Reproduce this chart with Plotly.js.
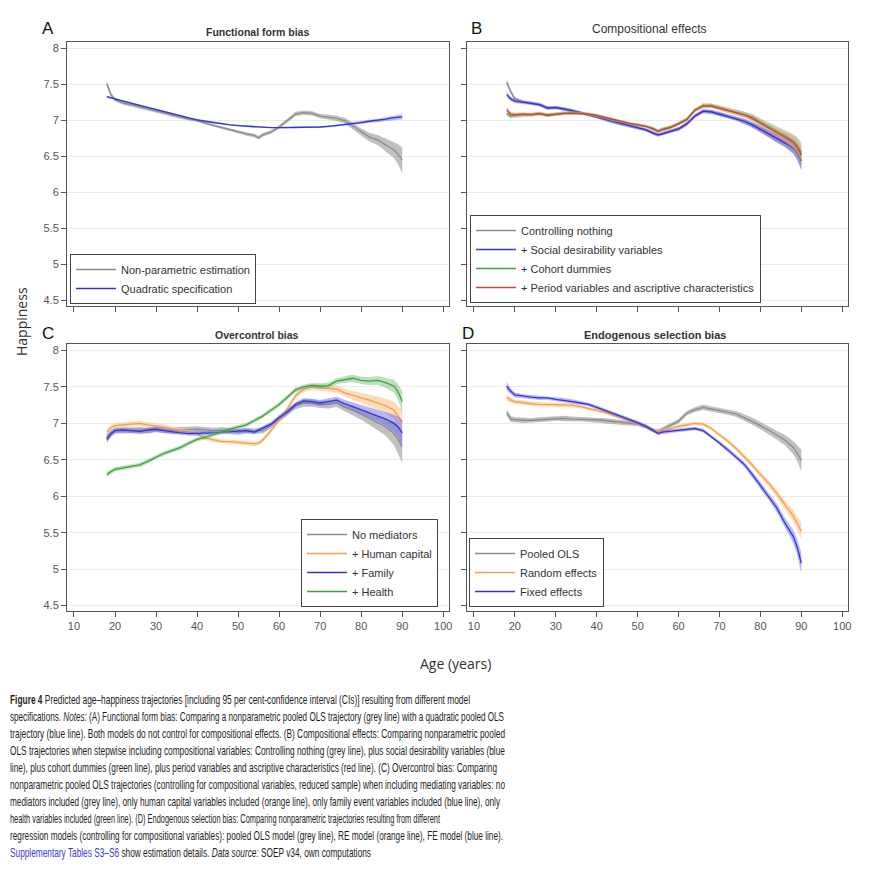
<!DOCTYPE html>
<html>
<head>
<meta charset="utf-8">
<script src="https://cdn.plot.ly/plotly-3.0.1.min.js"></script>
<style>
  html, body { margin: 0; padding: 0; background: #fff; }
  #chart { position: absolute; left: 0; top: 0; width: 880px; height: 880px; }
  .cap { position: absolute; left: 10px; white-space: nowrap; transform-origin: 0 50%;
         font-family: "Liberation Sans Narrow", "Liberation Sans", Arial, sans-serif;
         font-size: 13.5px; line-height: 16px; color: #1e1e1e; }
  .cap .lnk { color: #3b3bcf; }
</style>
</head>
<body>
<div id="chart"></div>
<div id="caption"></div>
<script>
// ---------------- DATA ----------------
const ages = [18,19,20,22,24,26,28,30,32,34, 36,38,40,42,44,46,48,50,52,54, 55,56,58,60,62,64,66,68,70,72, 74,76,78,80,82,84,86,88,89,90];
const xTicks = [10,20,30,40,50,60,70,80,90,100];
const yTicks = [4.5,5,5.5,6,6.5,7,7.5,8];

// Panel A: Functional form bias
const aNonParam   = [7.51,7.36,7.29,7.24,7.22,7.19,7.16,7.13,7.10,7.07, 7.04,7.02,7.00,6.96,6.93,6.90,6.87,6.84,6.81,6.79, 6.76,6.80,6.84,6.91,7.00,7.09,7.11,7.10,7.06,7.05, 7.03,7.00,6.92,6.84,6.77,6.73,6.66,6.59,6.53,6.45];
const aNonParamCI = [.04,.03,.025,.02,.02,.02,.02,.02,.02,.02, .02,.02,.02,.02,.02,.02,.02,.02,.022,.025, .025,.025,.025,.025,.028,.03,.03,.03,.03,.035, .035,.04,.045,.05,.06,.07,.09,.11,.14,.18];
const aQuad       = [7.33,7.32,7.30,7.27,7.24,7.21,7.18,7.15,7.12,7.09, 7.06,7.03,7.01,6.99,6.97,6.95,6.94,6.93,6.92,6.91, 6.91,6.91,6.90,6.90,6.90,6.90,6.90,6.91,6.91,6.92, 6.93,6.94,6.96,6.97,6.99,7.00,7.02,7.04,7.045,7.05];
const aQuadCI     = [.015,.014,.013,.012,.011,.01,.01,.01,.01,.01, .01,.01,.01,.01,.01,.01,.01,.01,.01,.01, .01,.01,.01,.01,.01,.01,.01,.01,.012,.013, .014,.016,.018,.02,.022,.025,.028,.032,.034,.036];

// Panel B: Compositional effects
const bNothing    = [7.53,7.40,7.30,7.26,7.24,7.22,7.18,7.18,7.16,7.14, 7.11,7.08,7.05,7.02,6.98,6.95,6.92,6.90,6.87,6.82, 6.80,6.82,6.86,6.89,6.96,7.07,7.13,7.12,7.09,7.06, 7.03,6.99,6.94,6.88,6.82,6.75,6.69,6.62,6.55,6.44];
const bNothingCI  = [.04,.03,.025,.02,.02,.02,.02,.02,.02,.02, .02,.02,.02,.02,.02,.02,.02,.02,.02,.02, .02,.02,.02,.02,.02,.02,.025,.025,.025,.025, .03,.03,.035,.04,.045,.05,.055,.07,.09,.12];
const bSocial     = [7.36,7.30,7.27,7.25,7.24,7.22,7.17,7.18,7.16,7.14, 7.11,7.08,7.05,7.02,6.98,6.95,6.92,6.90,6.87,6.82, 6.80,6.81,6.85,6.88,6.95,7.06,7.13,7.12,7.09,7.06, 7.03,6.99,6.94,6.88,6.82,6.75,6.69,6.62,6.55,6.44];
const bSocialCI   = [.04,.03,.03,.025,.025,.025,.025,.025,.025,.025, .02,.02,.02,.02,.02,.02,.02,.02,.022,.025, .025,.025,.025,.025,.025,.025,.028,.028,.03,.03, .03,.035,.04,.045,.05,.055,.06,.08,.10,.13];
const bCohort     = [7.10,7.06,7.07,7.08,7.08,7.09,7.08,7.09,7.10,7.11, 7.10,7.09,7.07,7.04,7.01,6.99,6.96,6.94,6.92,6.88, 6.85,6.88,6.91,6.96,7.02,7.15,7.21,7.21,7.18,7.15, 7.12,7.09,7.05,6.98,6.92,6.86,6.79,6.72,6.66,6.56];
const bCohortCI   = [.04,.03,.03,.025,.025,.025,.025,.025,.025,.025, .02,.02,.02,.02,.02,.02,.02,.02,.022,.025, .025,.025,.025,.025,.025,.025,.028,.028,.03,.03, .035,.04,.045,.05,.055,.06,.07,.09,.11,.13];
const bPeriod     = [7.15,7.09,7.08,7.09,7.08,7.10,7.07,7.09,7.10,7.10, 7.10,7.09,7.07,7.04,7.01,6.98,6.96,6.94,6.92,6.88, 6.85,6.87,6.90,6.95,7.01,7.14,7.20,7.20,7.17,7.14, 7.11,7.08,7.03,6.96,6.90,6.83,6.77,6.70,6.63,6.52];
const bPeriodCI   = [.04,.03,.03,.025,.025,.025,.025,.025,.025,.025, .02,.02,.02,.02,.02,.02,.02,.02,.022,.025, .025,.025,.025,.025,.025,.025,.028,.028,.03,.03, .035,.04,.045,.05,.055,.06,.07,.09,.11,.13];

// Panel C: Overcontrol bias
const cNone       = [6.80,6.86,6.90,6.90,6.91,6.91,6.90,6.92,6.91,6.90, 6.91,6.92,6.92,6.91,6.90,6.91,6.89,6.88,6.90,6.89, 6.90,6.90,6.97,7.06,7.15,7.24,7.28,7.28,7.26,7.26, 7.28,7.22,7.18,7.13,7.07,7.01,6.95,6.86,6.78,6.68];
const cNoneCI     = [.06,.045,.04,.04,.04,.04,.04,.04,.04,.04, .04,.04,.04,.04,.04,.04,.04,.04,.04,.04, .04,.04,.04,.04,.045,.045,.05,.05,.05,.055, .055,.06,.07,.08,.09,.10,.12,.16,.19,.22];
const cHuman      = [6.88,6.94,6.97,6.98,6.99,7.00,6.98,6.97,6.95,6.92, 6.90,6.88,6.86,6.80,6.77,6.75,6.75,6.74,6.73,6.72, 6.73,6.77,6.90,7.05,7.20,7.38,7.47,7.50,7.49,7.48, 7.47,7.42,7.38,7.35,7.32,7.28,7.24,7.18,7.10,7.02];
const cHumanCI    = [.05,.04,.035,.035,.035,.035,.035,.035,.035,.035, .03,.03,.03,.03,.03,.03,.03,.03,.03,.03, .03,.03,.03,.035,.035,.035,.04,.04,.04,.045, .05,.055,.06,.07,.08,.09,.10,.12,.14,.17];
const cFamily     = [6.78,6.86,6.90,6.91,6.90,6.89,6.91,6.92,6.90,6.88, 6.87,6.86,6.86,6.86,6.87,6.88,6.89,6.90,6.90,6.88, 6.91,6.93,6.99,7.08,7.16,7.26,7.31,7.30,7.28,7.30, 7.32,7.27,7.23,7.19,7.15,7.11,7.06,7.00,6.95,6.87];
const cFamilyCI   = [.05,.04,.035,.035,.035,.035,.035,.035,.035,.035, .03,.03,.03,.03,.03,.03,.03,.03,.03,.03, .03,.03,.03,.035,.035,.035,.04,.04,.04,.045, .045,.05,.055,.06,.07,.08,.09,.12,.14,.17];
const cHealth     = [6.30,6.34,6.37,6.39,6.41,6.43,6.48,6.54,6.59,6.63, 6.67,6.73,6.78,6.81,6.85,6.89,6.92,6.95,6.98,7.04, 7.07,7.10,7.18,7.26,7.36,7.46,7.50,7.52,7.51,7.52, 7.58,7.60,7.62,7.59,7.58,7.59,7.56,7.51,7.43,7.30];
const cHealthCI   = [.04,.035,.03,.03,.03,.03,.03,.03,.03,.03, .03,.03,.03,.03,.03,.03,.03,.03,.03,.03, .03,.03,.03,.03,.03,.035,.035,.035,.04,.04, .04,.045,.05,.05,.055,.06,.07,.09,.11,.14];

// Panel D: Endogenous selection bias
const dPooled     = [7.15,7.06,7.05,7.04,7.04,7.05,7.06,7.07,7.07,7.06, 7.06,7.05,7.05,7.04,7.03,7.02,7.00,6.99,6.96,6.90, 6.89,6.92,6.97,7.03,7.14,7.19,7.22,7.20,7.18,7.16, 7.13,7.08,7.03,6.97,6.91,6.84,6.77,6.67,6.59,6.49];
const dPooledCI   = [.05,.04,.035,.035,.035,.035,.035,.035,.035,.035, .03,.03,.03,.03,.03,.03,.03,.03,.03,.03, .03,.03,.03,.03,.03,.035,.035,.035,.035,.04, .04,.045,.05,.05,.055,.06,.07,.09,.11,.15];
const dRandom     = [7.36,7.32,7.30,7.28,7.27,7.26,7.26,7.26,7.25,7.25, 7.23,7.21,7.18,7.15,7.11,7.08,7.04,7.00,6.96,6.91, 6.88,6.90,6.93,6.96,6.98,7.00,6.99,6.93,6.84,6.76, 6.66,6.55,6.43,6.30,6.18,6.04,5.88,5.73,5.63,5.52];
const dRandomCI   = [.05,.035,.03,.03,.03,.03,.03,.03,.03,.03, .025,.025,.025,.025,.025,.025,.025,.025,.025,.025, .025,.025,.025,.025,.025,.025,.025,.025,.025,.03, .03,.035,.035,.04,.045,.05,.06,.08,.09,.12];
const dFixed      = [7.51,7.44,7.39,7.37,7.36,7.35,7.35,7.33,7.32,7.30, 7.28,7.26,7.22,7.18,7.14,7.10,7.05,7.01,6.96,6.90, 6.86,6.88,6.89,6.91,6.92,6.93,6.90,6.82,6.73,6.64, 6.54,6.44,6.30,6.15,6.00,5.84,5.63,5.45,5.30,5.08];
const dFixedCI    = [.06,.04,.035,.03,.03,.03,.03,.03,.03,.03, .025,.025,.025,.025,.025,.025,.025,.025,.025,.025, .025,.025,.025,.025,.025,.025,.025,.025,.03,.03, .03,.035,.04,.045,.05,.06,.07,.09,.11,.14];

const panelLetters = ['A','B','C','D'];
const panelTitles = ['Functional form bias','Compositional effects','Overcontrol bias','Endogenous selection bias'];
const legendA = ['Non-parametric estimation','Quadratic specification'];
const legendB = ['Controlling nothing','+ Social desirability variables','+ Cohort dummies','+ Period variables and ascriptive characteristics'];
const legendC = ['No mediators','+ Human capital','+ Family','+ Health'];
const legendD = ['Pooled OLS','Random effects','Fixed effects'];
const yTitle = 'Happiness';
const xTitle = 'Age (years)';

const captionLines = [
  '<b>Figure 4</b> Predicted age–happiness trajectories [including 95 per cent-confidence interval (CIs)] resulting from different model',
  'specifications. <i>Notes:</i> (A) Functional form bias: Comparing a nonparametric pooled OLS trajectory (grey line) with a quadratic pooled OLS',
  'trajectory (blue line). Both models do not control for compositional effects. (B) Compositional effects: Comparing nonparametric pooled',
  'OLS trajectories when stepwise including compositional variables: Controlling nothing (grey line), plus social desirability variables (blue',
  'line), plus cohort dummies (green line), plus period variables and ascriptive characteristics (red line). (C) Overcontrol bias: Comparing',
  'nonparametric pooled OLS trajectories (controlling for compositional variables, reduced sample) when including mediating variables: no',
  'mediators included (grey line), only human capital variables included (orange line), only family event variables included (blue line), only',
  'health variables included (green line). (D) Endogenous selection bias: Comparing nonparametric trajectories resulting from different',
  'regression models (controlling for compositional variables): pooled OLS model (grey line), RE model (orange line), FE model (blue line).',
  '<span class="lnk">Supplementary Tables S3–S6</span> show estimation details. <i>Data source:</i> SOEP v34, own computations'
];

// ---------------- STYLE ----------------
const FONT = '"Liberation Sans", Arial, sans-serif';
const COL = {
  grey:   {line: '#8c8c8c', band: 'rgba(140,140,140,0.55)'},
  blue:   {line: '#3535d0', band: 'rgba(95,95,245,0.45)'},
  green:  {line: '#3f9f3f', band: 'rgba(110,185,110,0.45)'},
  red:    {line: '#bf4a30', band: 'rgba(235,140,125,0.5)'},
  orange: {line: '#f0a050', band: 'rgba(255,190,125,0.55)'}
};

function band(m, ci, col, xa, ya) {
  const up = m.map((v, i) => v + ci[i]);
  const lo = m.map((v, i) => v - ci[i]);
  return {type: 'scatter', mode: 'lines', x: ages.concat(ages.slice().reverse()),
    y: up.concat(lo.slice().reverse()), fill: 'toself', fillcolor: col.band,
    line: {width: 0, color: col.band}, showlegend: false, hoverinfo: 'skip', xaxis: xa, yaxis: ya};
}
function line(m, name, col, xa, ya, leg) {
  return {type: 'scatter', mode: 'lines', x: ages, y: m, name: name,
    line: {color: col.line, width: 1.3}, xaxis: xa, yaxis: ya, legend: leg};
}
function series(m, ci, name, col, xa, ya, leg) {
  return [band(m, ci, col, xa, ya), line(m, name, col, xa, ya, leg)];
}

const traces = [].concat(
  series(aNonParam, aNonParamCI, legendA[0], COL.grey, 'x', 'y', 'legend'),
  series(aQuad, aQuadCI, legendA[1], COL.blue, 'x', 'y', 'legend'),
  series(bNothing, bNothingCI, legendB[0], COL.grey, 'x2', 'y2', 'legend2'),
  series(bSocial, bSocialCI, legendB[1], COL.blue, 'x2', 'y2', 'legend2'),
  series(bCohort, bCohortCI, legendB[2], COL.green, 'x2', 'y2', 'legend2'),
  series(bPeriod, bPeriodCI, legendB[3], COL.red, 'x2', 'y2', 'legend2'),
  series(cNone, cNoneCI, legendC[0], COL.grey, 'x3', 'y3', 'legend3'),
  series(cHuman, cHumanCI, legendC[1], COL.orange, 'x3', 'y3', 'legend3'),
  series(cFamily, cFamilyCI, legendC[2], COL.blue, 'x3', 'y3', 'legend3'),
  series(cHealth, cHealthCI, legendC[3], COL.green, 'x3', 'y3', 'legend3'),
  series(dPooled, dPooledCI, legendD[0], COL.grey, 'x4', 'y4', 'legend4'),
  series(dRandom, dRandomCI, legendD[1], COL.orange, 'x4', 'y4', 'legend4'),
  series(dFixed, dFixedCI, legendD[2], COL.blue, 'x4', 'y4', 'legend4')
);

const W = 880, H = 880;
const fx = p => p / W;
const fy = p => 1 - p / H;
const tickFont = {family: FONT, size: 11, color: '#555'};

function xax(domain, anchor, labels) {
  return {domain: domain, anchor: anchor, range: [8.3, 101.4], tickmode: 'array', tickvals: xTicks,
    showticklabels: labels, ticks: 'outside', ticklen: 5, tickwidth: 1, tickcolor: '#555',
    showline: true, mirror: true, linecolor: '#555', linewidth: 1, showgrid: false, zeroline: false,
    tickfont: tickFont, fixedrange: true};
}
function yax(domain, anchor, labels) {
  return {domain: domain, anchor: anchor, range: [4.425, 8.09], tickmode: 'array', tickvals: yTicks,
    showticklabels: labels, ticks: 'outside', ticklen: 5, tickwidth: 1, tickcolor: '#555',
    showline: true, mirror: true, linecolor: '#555', linewidth: 1, showgrid: true, gridcolor: '#ebebeb',
    gridwidth: 1, zeroline: false, tickfont: tickFont, fixedrange: true};
}

const xLeft = [fx(67), fx(449)], xRight = [fx(467), fx(848)];
const yTop = [fy(306), fy(42)], yBot = [fy(611), fy(344)];

function legendBox(xp, ybottom) {
  return {x: fx(xp), y: fy(ybottom), xanchor: 'left', yanchor: 'bottom', bgcolor: '#fff',
    bordercolor: '#444', borderwidth: 1, font: {family: FONT, size: 11, color: '#333'},
    itemwidth: 40, tracegroupgap: 0, traceorder: 'normal'};
}

const letterFont = {family: FONT, size: 17, color: '#111'};
const annotations = [
  {text: panelLetters[0], x: fx(48), y: fy(28)},
  {text: panelLetters[1], x: fx(476), y: fy(28)},
  {text: panelLetters[2], x: fx(48), y: fy(333)},
  {text: panelLetters[3], x: fx(468), y: fy(333)}
].map(a => Object.assign(a, {font: letterFont}));

annotations.push(
  {text: '<b>' + panelTitles[0] + '</b>', x: fx(257), y: fy(32), font: {family: FONT, size: 10.5, color: '#333'}},
  {text: panelTitles[1], x: fx(649), y: fy(29), font: {family: FONT, size: 12, color: '#333'}},
  {text: '<b>' + panelTitles[2] + '</b>', x: fx(257), y: fy(335), font: {family: FONT, size: 10.5, color: '#333'}},
  {text: '<b>' + panelTitles[3] + '</b>', x: fx(655), y: fy(335), font: {family: FONT, size: 11, color: '#333'}},
  {text: yTitle, x: fx(21), y: fy(322), textangle: -90, font: {family: '"Open Sans", sans-serif', size: 14, color: '#333'}},
  {text: xTitle, x: fx(455), y: fy(663), font: {family: '"Open Sans", sans-serif', size: 14, color: '#333'}}
);
annotations.forEach(a => Object.assign(a, {xref: 'paper', yref: 'paper', showarrow: false, xanchor: 'center', yanchor: 'middle'}));

const layout = {
  width: W, height: H, margin: {l: 0, r: 0, t: 0, b: 0},
  paper_bgcolor: '#fff', plot_bgcolor: '#fff',
  font: {family: FONT},
  xaxis: xax(xLeft, 'y', false), yaxis: yax(yTop, 'x', true),
  xaxis2: xax(xRight, 'y2', false), yaxis2: yax(yTop, 'x2', false),
  xaxis3: xax(xLeft, 'y3', true), yaxis3: yax(yBot, 'x3', true),
  xaxis4: xax(xRight, 'y4', true), yaxis4: yax(yBot, 'x4', false),
  legend: legendBox(70, 304),
  legend2: legendBox(470, 303),
  legend3: legendBox(301, 607),
  legend4: legendBox(469, 607),
  annotations: annotations,
  showlegend: true
};

Plotly.newPlot('chart', traces, layout, {displayModeBar: false, staticPlot: true});

// ---------------- CAPTION ----------------
const capTargets = [460, 494, 495, 495, 487, 495, 490, 430, 493, 361];
const cap = document.getElementById('caption');
captionLines.forEach((t, i) => {
  const d = document.createElement('div');
  d.className = 'cap';
  d.style.top = (692 + 17 * i) + 'px';
  d.innerHTML = t;
  cap.appendChild(d);
  const w = d.getBoundingClientRect().width;
  d.style.transform = 'scaleX(' + (capTargets[i] / w).toFixed(4) + ')';
});
</script>
</body>
</html>
